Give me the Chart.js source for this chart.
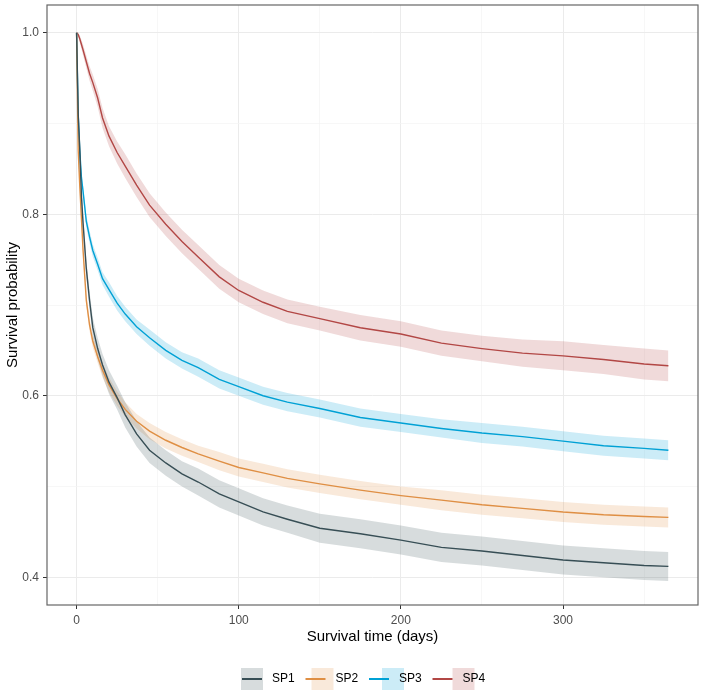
<!DOCTYPE html>
<html>
<head>
<meta charset="utf-8">
<script src="https://cdn.jsdelivr.net/npm/chart.js@4.4.0/dist/chart.umd.min.js"></script>
<style>
  html, body { margin: 0; padding: 0; background: #fff; }
  canvas { display: block; }
</style>
</head>
<body>
<canvas id="myChart" width="702" height="693"></canvas>
<script>
// time points (days)
const days = [0, 1, 2, 3, 4, 6, 8, 10, 13, 16, 20, 25, 30, 37, 45, 55, 65, 75, 88, 100,
              115, 130, 150, 175, 200, 225, 250, 275, 300, 325, 350, 365];

const groupNames = ['SP1', 'SP2', 'SP3', 'SP4'];

const sp1Surv  = [1.0, 0.91, 0.87, 0.82, 0.79, 0.74, 0.705, 0.675, 0.652, 0.634, 0.615, 0.598, 0.579, 0.558, 0.540, 0.526, 0.514, 0.505, 0.492, 0.483, 0.472, 0.464, 0.454, 0.448, 0.441, 0.433, 0.429, 0.424, 0.419, 0.416, 0.413, 0.412];
const sp1Lower = [1.0, 0.903, 0.862, 0.811, 0.780, 0.730, 0.695, 0.664, 0.640, 0.622, 0.602, 0.585, 0.565, 0.544, 0.526, 0.512, 0.500, 0.490, 0.477, 0.468, 0.457, 0.449, 0.438, 0.432, 0.425, 0.417, 0.413, 0.408, 0.403, 0.400, 0.397, 0.396];
const sp1Upper = [1.0, 0.917, 0.878, 0.829, 0.800, 0.750, 0.715, 0.686, 0.664, 0.646, 0.628, 0.611, 0.593, 0.572, 0.554, 0.540, 0.528, 0.520, 0.507, 0.498, 0.487, 0.479, 0.470, 0.464, 0.457, 0.449, 0.445, 0.440, 0.435, 0.432, 0.429, 0.428];

const sp2Surv  = [1.0, 0.87, 0.83, 0.795, 0.76, 0.705, 0.678, 0.66, 0.643, 0.628, 0.612, 0.597, 0.585, 0.572, 0.561, 0.551, 0.543, 0.536, 0.528, 0.521, 0.515, 0.509, 0.503, 0.496, 0.490, 0.485, 0.480, 0.476, 0.472, 0.469, 0.467, 0.466];
const sp2Lower = [1.0, 0.865, 0.824, 0.789, 0.754, 0.698, 0.671, 0.653, 0.636, 0.620, 0.604, 0.589, 0.577, 0.564, 0.552, 0.542, 0.534, 0.527, 0.518, 0.511, 0.505, 0.499, 0.493, 0.486, 0.480, 0.474, 0.469, 0.465, 0.461, 0.458, 0.456, 0.455];
const sp2Upper = [1.0, 0.875, 0.836, 0.801, 0.766, 0.712, 0.685, 0.667, 0.650, 0.636, 0.620, 0.605, 0.593, 0.580, 0.570, 0.560, 0.552, 0.545, 0.538, 0.531, 0.525, 0.519, 0.513, 0.506, 0.500, 0.496, 0.491, 0.487, 0.483, 0.480, 0.478, 0.477];

const sp3Surv  = [1.0, 0.909, 0.869, 0.840, 0.825, 0.792, 0.775, 0.760, 0.745, 0.729, 0.717, 0.702, 0.690, 0.676, 0.664, 0.650, 0.639, 0.631, 0.618, 0.610, 0.600, 0.593, 0.586, 0.576, 0.570, 0.564, 0.559, 0.555, 0.550, 0.545, 0.542, 0.540];
const sp3Lower = [1.0, 0.903, 0.862, 0.833, 0.818, 0.785, 0.768, 0.753, 0.738, 0.722, 0.709, 0.694, 0.682, 0.668, 0.655, 0.641, 0.630, 0.621, 0.608, 0.600, 0.590, 0.583, 0.576, 0.566, 0.560, 0.554, 0.548, 0.544, 0.539, 0.534, 0.531, 0.529];
const sp3Upper = [1.0, 0.915, 0.876, 0.847, 0.832, 0.799, 0.782, 0.767, 0.752, 0.736, 0.725, 0.710, 0.698, 0.684, 0.673, 0.659, 0.648, 0.641, 0.628, 0.620, 0.610, 0.603, 0.596, 0.586, 0.580, 0.574, 0.570, 0.566, 0.561, 0.556, 0.553, 0.551];

const sp4Surv  = [1.0, 0.998, 0.993, 0.987, 0.981, 0.968, 0.955, 0.945, 0.928, 0.906, 0.886, 0.868, 0.853, 0.832, 0.810, 0.789, 0.770, 0.753, 0.731, 0.716, 0.703, 0.693, 0.685, 0.675, 0.668, 0.658, 0.652, 0.647, 0.644, 0.640, 0.635, 0.633];
const sp4Lower = [1.0, 0.996, 0.989, 0.982, 0.975, 0.961, 0.947, 0.936, 0.918, 0.895, 0.875, 0.856, 0.840, 0.819, 0.797, 0.776, 0.757, 0.740, 0.718, 0.703, 0.690, 0.680, 0.672, 0.661, 0.654, 0.644, 0.638, 0.632, 0.628, 0.624, 0.618, 0.616];
const sp4Upper = [1.0, 1.0, 0.997, 0.992, 0.987, 0.975, 0.963, 0.954, 0.938, 0.917, 0.897, 0.880, 0.866, 0.845, 0.823, 0.802, 0.783, 0.766, 0.744, 0.729, 0.716, 0.706, 0.698, 0.689, 0.682, 0.672, 0.666, 0.662, 0.660, 0.656, 0.652, 0.650];

// axis ticks
const xMajorTicks = [0, 100, 200, 300];
const xMinorTicks = [50, 150, 250, 350];
const yMajorTicks = [0.4, 0.6, 0.8, 1.0];
const yMinorTicks = [0.5, 0.7, 0.9];

const survSets  = [sp1Surv, sp2Surv, sp3Surv, sp4Surv];
const lowerSets = [sp1Lower, sp2Lower, sp3Lower, sp4Lower];
const upperSets = [sp1Upper, sp2Upper, sp3Upper, sp4Upper];

const lineColors = ['#374E55', '#DF8F44', '#00A1D5', '#B24745'];
const bandColors = ['rgba(55,78,85,0.2)', 'rgba(223,143,68,0.2)', 'rgba(0,161,213,0.2)', 'rgba(178,71,69,0.2)'];

const fontFamily = '"Liberation Sans", Arial, Helvetica, sans-serif';

const toPoints = values => values.map((v, i) => ({ x: days[i], y: v }));

const datasets = [];
// confidence bands first
groupNames.forEach((name, i) => {
    datasets.push({
        label: name + ' lower',
        data: toPoints(lowerSets[i]),
        borderColor: 'rgba(0,0,0,0)',
        borderWidth: 0,
        pointRadius: 0,
        fill: false
    });
    datasets.push({
        label: name + ' upper',
        data: toPoints(upperSets[i]),
        borderColor: 'rgba(0,0,0,0)',
        borderWidth: 0,
        pointRadius: 0,
        backgroundColor: bandColors[i],
        fill: '-1'
    });
});
// then the survival curves
groupNames.forEach((name, i) => {
    datasets.push({
        label: name,
        data: toPoints(survSets[i]),
        borderColor: lineColors[i],
        borderWidth: 1.4,
        pointRadius: 0,
        fill: false
    });
});

const isIn = (arr, v) => arr.some(a => Math.abs(a - v) < 1e-9);

// panel border + bottom legend
const panelPlugin = {
    id: 'panelAndLegend',
    afterDraw(chart) {
        const ctx = chart.ctx;
        const a = chart.chartArea;
        ctx.save();
        ctx.strokeStyle = '#666';
        ctx.lineWidth = 1.2;
        ctx.strokeRect(a.left, a.top, a.right - a.left, a.bottom - a.top);

        ctx.font = '12px ' + fontFamily;
        ctx.textBaseline = 'middle';
        ctx.textAlign = 'left';
        const yMid = 679;
        groupNames.forEach((name, i) => {
            const boxX = 241 + i * 70.5;
            const textX = 272 + i * 63.5;
            ctx.fillStyle = bandColors[i];
            ctx.fillRect(boxX, yMid - 11, 22, 22);
            ctx.strokeStyle = lineColors[i];
            ctx.lineWidth = 2;
            ctx.beginPath();
            ctx.moveTo(textX - 30, yMid);
            ctx.lineTo(textX - 10, yMid);
            ctx.stroke();
            ctx.fillStyle = '#000';
            ctx.fillText(name, textX, yMid);
        });
        ctx.restore();
    }
};

const ctx = document.querySelector('#myChart').getContext('2d');

new Chart(ctx, {
    type: 'line',
    data: { datasets: datasets },
    options: {
        responsive: false,
        animation: false,
        layout: { padding: { top: 5, right: 4, left: 0, bottom: 0 } },
        plugins: {
            legend: { display: false },
            tooltip: { enabled: false },
            filler: { drawTime: 'beforeDatasetsDraw', propagate: false }
        },
        elements: { line: { tension: 0 } },
        scales: {
            x: {
                type: 'linear',
                min: -18.25,
                max: 383.25,
                afterBuildTicks: scale => {
                    scale.ticks = xMajorTicks.concat(xMinorTicks).sort((a, b) => a - b).map(v => ({ value: v }));
                },
                afterFit: scale => {
                    scale.height = 88;
                    scale.paddingLeft = 0;
                    scale.paddingRight = 0;
                },
                border: { display: false },
                grid: {
                    color: c => isIn(xMajorTicks, c.tick.value) ? '#EBEBEB' : '#F3F3F3',
                    lineWidth: c => isIn(xMajorTicks, c.tick.value) ? 1 : 0.7,
                    drawTicks: true,
                    tickLength: 4,
                    tickColor: c => isIn(xMajorTicks, c.tick.value) ? '#333' : 'rgba(0,0,0,0)',
                    tickWidth: 1
                },
                ticks: {
                    autoSkip: false,
                    maxRotation: 0,
                    padding: 4,
                    color: '#4D4D4D',
                    font: { family: fontFamily, size: 12 },
                    callback: v => isIn(xMajorTicks, v) ? String(v) : ''
                },
                title: {
                    display: true,
                    text: 'Survival time (days)',
                    color: '#000',
                    font: { family: fontFamily, size: 15 },
                    padding: { top: 0, bottom: 47 }
                }
            },
            y: {
                min: 0.3695,
                max: 1.0305,
                afterBuildTicks: scale => {
                    scale.ticks = yMajorTicks.concat(yMinorTicks).sort((a, b) => a - b).map(v => ({ value: v }));
                },
                afterFit: scale => {
                    scale.width = 47;
                    scale.paddingTop = 0;
                    scale.paddingBottom = 0;
                },
                border: { display: false },
                grid: {
                    color: c => isIn(yMajorTicks, c.tick.value) ? '#EBEBEB' : '#F3F3F3',
                    lineWidth: c => isIn(yMajorTicks, c.tick.value) ? 1 : 0.7,
                    drawTicks: true,
                    tickLength: 4,
                    tickColor: c => isIn(yMajorTicks, c.tick.value) ? '#333' : 'rgba(0,0,0,0)',
                    tickWidth: 1
                },
                ticks: {
                    autoSkip: false,
                    padding: 4,
                    color: '#4D4D4D',
                    font: { family: fontFamily, size: 12 },
                    callback: v => isIn(yMajorTicks, v) ? v.toFixed(1) : ''
                },
                title: {
                    display: true,
                    text: 'Survival probability',
                    color: '#000',
                    font: { family: fontFamily, size: 15 },
                    padding: { top: 4, bottom: 0 }
                }
            }
        }
    },
    plugins: [panelPlugin]
});
</script>
</body>
</html>
